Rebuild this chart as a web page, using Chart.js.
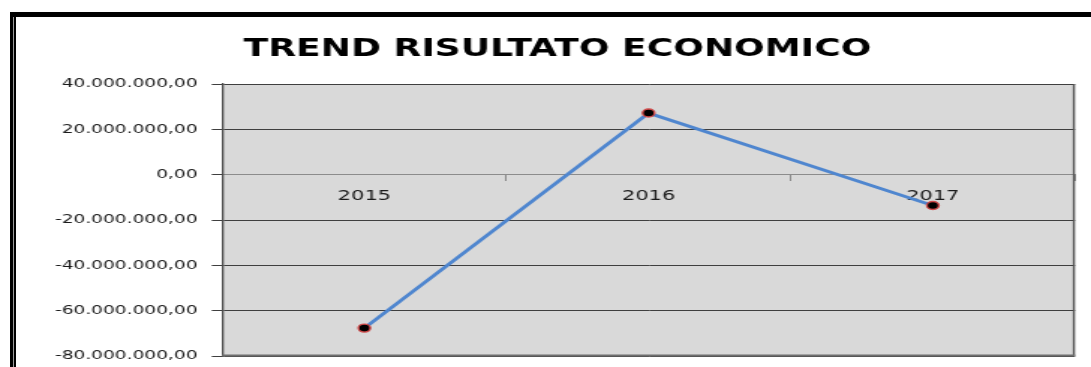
<!DOCTYPE html>
<html>
<head>
<meta charset="utf-8">
<script src="https://cdn.jsdelivr.net/npm/chart.js@4/dist/chart.umd.min.js"></script>
<style>
  html, body { margin: 0; padding: 0; background: #ffffff; }
  body { width: 1091px; height: 367px; position: relative; overflow: hidden; }
  #stage { position: absolute; left: 0; top: 0; width: 728px; height: 367px;
           transform: scaleX(1.4986); transform-origin: 0 0; }
  .frame { position: absolute; background: #000; }
</style>
</head>
<body>
<div class="frame" style="left:10px; top:12px; width:1081px; height:5px;"></div>
<div class="frame" style="left:10px; top:12px; width:3px; height:355px;"></div>
<div class="frame" style="left:13px; top:17px; width:1px; height:350px; background:#9a9a9a;"></div>
<div class="frame" style="left:14px; top:17px; width:2px; height:350px;"></div>
<div id="stage"><canvas id="c" width="728" height="367"></canvas></div>
<script>
// Risultato economico per anno
const years = ['2015', '2016', '2017'];
const risultato = [-67700000, 27200000, -13600000];
const yTicks = { min: -80000000, max: 40000000, step: 20000000 };

// Formato italiano: 40.000.000,00
function formatIt(v) {
  const neg = v < 0;
  const abs = Math.abs(v);
  const intPart = Math.floor(abs).toString().replace(/\B(?=(\d{3})+(?!\d))/g, '.');
  const dec = Math.round((abs - Math.floor(abs)) * 100).toString().padStart(2, '0');
  return (neg ? '-' : '') + intPart + ',' + dec;
}

// Sfondo grigio dell'area del grafico e bordo destro/inferiore
const plotFrame = {
  id: 'plotFrame',
  beforeDraw(chart) {
    const { ctx, chartArea: a } = chart;
    ctx.save();
    ctx.fillStyle = '#d9d9d9';
    ctx.fillRect(a.left, a.top, a.right - a.left, a.bottom - a.top);
    ctx.restore();
  },
  afterDraw(chart) {
    const { ctx, chartArea: a } = chart;
    ctx.save();
    ctx.strokeStyle = '#555555';
    ctx.lineWidth = 1.4;
    ctx.beginPath();
    ctx.moveTo(a.right - 0.7, a.top);
    ctx.lineTo(a.right - 0.7, a.bottom);
    ctx.stroke();
    ctx.strokeStyle = '#6e6e6e';
    ctx.lineWidth = 2;
    ctx.beginPath();
    ctx.moveTo(a.left, a.bottom - 0.5);
    ctx.lineTo(a.right, a.bottom - 0.5);
    ctx.stroke();
    ctx.restore();
  }
};

new Chart(document.getElementById('c'), {
  type: 'line',
  data: {
    labels: years,
    datasets: [{
      data: risultato,
      borderColor: '#4f86cf',
      borderWidth: 3,
      tension: 0,
      pointRadius: 4,
      pointBorderWidth: 1.4,
      pointBackgroundColor: '#000000',
      pointBorderColor: '#d04a4a',
      fill: false
    }]
  },
  options: {
    responsive: false,
    animation: false,
    devicePixelRatio: 1,
    layout: { padding: { left: 26.7, right: 10.7, top: 0, bottom: 11 } },
    plugins: {
      legend: { display: false },
      tooltip: { enabled: false },
      title: {
        display: true,
        text: 'TREND RISULTATO ECONOMICO',
        color: '#000000',
        font: { family: 'DejaVu Sans', size: 24.1, weight: 'bold', lineHeight: 1.2 },
        padding: { top: 34.8, bottom: 20.3 }
      }
    },
    scales: {
      x: {
        type: 'category',
        position: { y: 0 },
        offset: true,
        z: 1,
        afterFit(scale) { scale.height = 0; scale.paddingLeft = 0; scale.paddingRight = 0; },
        grid: { offset: true, drawOnChartArea: false, drawTicks: true, tickLength: 6, color: '#8a8a8a' },
        border: { display: true, color: '#8c8c8c', width: 1 },
        ticks: { color: '#1a1a1a', padding: 7, font: { family: 'DejaVu Sans', size: 14 }, maxRotation: 0 }
      },
      y: {
        min: yTicks.min,
        max: yTicks.max,
        afterFit(scale) { scale.width = 121.6; scale.paddingTop = 0; scale.paddingBottom = 0; },
        grid: {
          color: (c) => (c.tick && c.tick.value === 0 ? 'rgba(0,0,0,0)' : '#3f3f3f'),
          tickColor: '#3f3f3f',
          tickLength: 7,
          lineWidth: 1
        },
        border: { display: true, color: '#4a4a4a', width: 1.3 },
        ticks: {
          stepSize: yTicks.step,
          color: '#1a1a1a',
          padding: 9.5,
          font: { family: 'DejaVu Sans', size: 12.4 },
          callback: (v) => formatIt(v)
        }
      }
    }
  },
  plugins: [plotFrame]
});
</script>
</body>
</html>
